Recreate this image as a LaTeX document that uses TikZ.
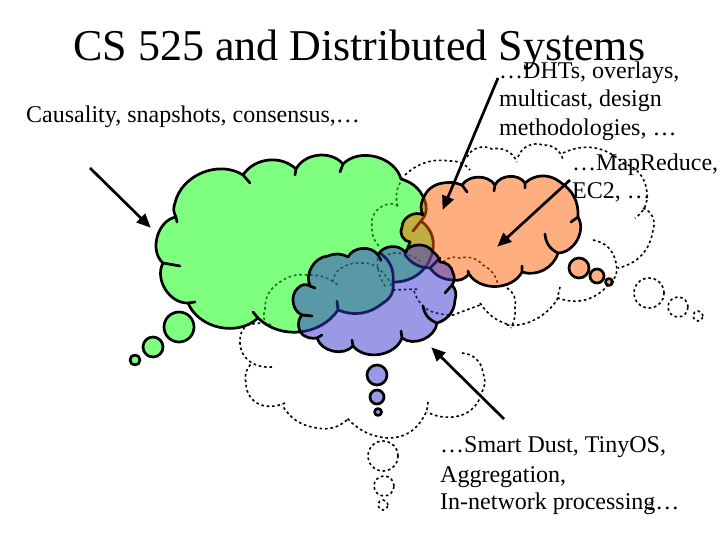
\documentclass[tikz,border=0pt]{standalone}
\usepackage{fontspec}
\setmainfont{Liberation Serif}
\usetikzlibrary{arrows.meta}
\definecolor{greencloud}{RGB}{0,255,0}
\definecolor{orangecloud}{RGB}{255,96,0}
\definecolor{bluecloud}{RGB}{51,51,204}
\tikzset{%
    bigcloud/.style={%
        line width=2.7pt, line join=round, line cap=round, fill opacity=0.5, draw opacity=1
    },
    dashcloud/.style={%
        line width=1.6pt, dash pattern=on 2.6pt off 2.8pt
    },
    pointer/.style={%
        line width=2.7pt, -{Triangle[length=14pt,width=12pt]}, shorten >=-1pt
    },
    caption/.style={%
        anchor=base west, inner sep=0pt, font=\fontsize{24}{28}\selectfont
    }
}

\begin{document}
\begin{tikzpicture}[x=1pt,y=-1pt]
    \useasboundingbox (0,0) rectangle (720,540);
    % dotted clouds, they lie under the coloured ones
    \begin{scope}[dashcloud]
    \draw (405,175) to[bend left=25] (450,161) to[bend left=25] (470,170);
    \draw (467,157) to[bend left=45] (492,149) to[bend left=40] (517,162);
    \draw (518,157) to[bend left=45] (543,145) to[bend left=40] (563,160);
    \draw (563,153) to[bend left=35] (623,163) to[bend left=35] (647,193) to[bend left=30] (635,218);
    \draw (643,208) to[bend left=45] (653,230) to[bend left=35] (618,268);
    \draw (593,240) to[bend left=35] (616,263) to[bend left=35] (608,285) to[bend left=35] (558,298);
    \draw (560,287) -- (557,300) to[bend left=15] (530,322) to[bend left=12] (507,325);
    \draw (507,288) to[bend left=35] (515,307) to[bend left=15] (511,328);
    \draw (480,303) to[bend right=20] (510,325);
    \draw (393,290) -- (418,289);
    \draw (414,291) to[bend right=20] (430,311) to[bend right=10] (453,315) -- (480,305);
    \draw (462,353) to[bend left=40] (483,373) to[bend left=25] (482,392) to[bend left=35] (453,417) to[bend left=15] (427,412);
    \draw (428,402) to[bend left=15] (423,418) to[bend left=30] (387,438) to[bend left=20] (347,418);
    \draw (347,420) to[bend left=25] (317,428) to[bend left=25] (282,405);
    \draw (285,403) to[bend left=15] (265,406) to[bend left=40] (246,383) to[bend left=30] (252,363);
    \draw (272,367) to[bend left=15] (252,363) to[bend left=30] (240,340) to[bend left=30] (248,325) to[bend left=15] (272,325);
    \draw (267,325) to[bend left=30] (265,310) to[bend left=30] (280,282) to[bend left=20] (307,275) to[bend left=20] (338,285);
    \draw (333,282) to[bend left=30] (343,267) to[bend left=15] (363,263) to[bend left=25] (383,273) to[bend left=15] (392,288);
    \draw (378,253) to[bend right=20] (386,288);
    \draw (380,262) to[bend left=20] (393,253) to[bend left=20] (423,263);
    \draw (403,178) to[bend right=25] (398,208);
    \draw (398,206) to[bend right=25] (385,205) to[bend right=40] (372,227) to[bend right=25] (380,247);
    \draw (443,262) to[bend left=30] (460,258) to[bend left=30] (483,265) to[bend left=25] (498,285);
    \node[draw,circle,inner sep=0pt,minimum size=30pt] (dashbubblea) at (649,293) {};
    \node[draw,circle,inner sep=0pt,minimum size=20pt] (dashbubbleb) at (678,307) {};
    \node[draw,circle,inner sep=0pt,minimum size=10pt] (dashbubblec) at (698,316) {};
    \node[draw,circle,inner sep=0pt,minimum size=30pt] (dashbubbled) at (383,456) {};
    \node[draw,circle,inner sep=0pt,minimum size=20pt] (dashbubblee) at (384,486) {};
    \node[draw,circle,inner sep=0pt,minimum size=10pt] (dashbubblef) at (383,505) {};
    \end{scope}
    % green cloud
    \draw[bigcloud,fill=greencloud]
        (176,217) to[bend left=25] (175,203) to[bend left=55] (243,175) -- (250,183) -- (243,175)
        to[bend left=50] (296,169) -- (295,175) -- (296,169)
        to[bend left=55] (343,164) -- (340,172) -- (343,164)
        to[bend left=60] (401,179)
        to[bend left=30] (426,205) to[bend left=25] (421,221) -- (413,231) -- (421,221)
        to[bend left=30] (433,250) to[bend left=40] (393,282)
        to[bend right=30] (380,253) to[bend left=30] (393,282)
        to[bend left=35] (383,303) to[bend left=30] (338,310) -- (337,301) -- (338,310)
        to[bend left=50] (258,318) -- (253,312) -- (258,318)
        to[bend left=55] (188,303) -- (195,302) -- (188,303)
        to[bend left=60] (163,263) -- (180,266) -- (163,263)
        to[bend left=65] (176,217) -- (177,222) -- cycle;
    % orange cloud
    \draw[bigcloud,fill=orangecloud]
        (410,242) to[bend left=60] (402,227) to[bend left=60] (423,215)
        to[bend left=25] (423,199) to[bend left=30] (443,183) to[bend left=15] (462,185) -- (467,192) -- (462,185)
        to[bend left=55] (495,185) -- (494,191) -- (495,185)
        to[bend left=60] (525,183) -- (525,188) -- (525,183)
        to[bend left=40] (560,182) to[bend left=30] (578,217) -- (571,222) -- (578,217)
        to[bend left=60] (558,253) to[bend left=30] (545,234) to[bend right=30] (558,253)
        to[bend left=45] (522,272) -- (522,266) -- (522,272)
        to[bend left=60] (469,274) -- (468,271) -- (469,274)
        to[bend left=30] (453,280) to[bend left=25] (430,268) -- (440,258) -- (430,268)
        to[bend left=25] (405,255) -- cycle;
    % blue cloud
    \draw[bigcloud,fill=bluecloud]
        (302,315) -- (312,316) -- (302,315)
        to[bend left=60] (298,288) to[bend left=40] (310,286) -- (315,288) -- (310,286)
        to[bend left=55] (328,256) to[bend left=25] (348,257)
        to[bend left=60] (378,255) -- (381,260) -- (378,255)
        to[bend left=60] (405,252)
        to[bend left=60] (433,252) to[bend left=20] (440,262)
        to[bend left=40] (453,273) to[bend left=30] (452,285) -- (445,293) -- (452,285)
        to[bend left=30] (455,300) to[bend left=35] (437,323) to[bend left=30] (423,306) to[bend right=30] (437,323)
        to[bend left=60] (402,338) -- (401,331) -- (402,338)
        to[bend left=60] (353,346) -- (352,340) -- (353,346)
        to[bend left=60] (317,338) -- (322,335) -- (317,338)
        to[bend left=20] (303,335) to[bend left=45] (302,315) -- cycle;
    % small bubbles
    \foreach \nm/\x/\y/\d/\c in {ga/179/327/30/greencloud, gb/153/347/20/greencloud, gc/135/360/10/greencloud,
        oa/579/268/20/orangecloud, ob/597/276/14/orangecloud, oc/609/282/7/orangecloud,
        ba/377/375/20/bluecloud, bb/377/397/14/bluecloud, bc/378/412/7/bluecloud}
    {
    \node[bigcloud,draw,fill=\c,circle,inner sep=0pt,minimum size=\d pt] (bubble\nm) at (\x,\y) {};
    }
    % arrows
    \coordinate (casualtail) at (90,168);
    \coordinate (casualhead) at (150,227);
    \coordinate (dhttail) at (498,78);
    \coordinate (dhthead) at (443,209);
    \coordinate (maptail) at (570,180);
    \coordinate (maphead) at (498,246);
    \coordinate (dusttail) at (504,419);
    \coordinate (dusthead) at (432,348);
    \draw[pointer] (casualtail) -- (casualhead);
    \draw[pointer] (dhttail) -- (dhthead);
    \draw[pointer] (maptail) -- (maphead);
    \draw[pointer] (dusttail) -- (dusthead);
    % texts
    \node[caption,font=\fontsize{44}{48}\selectfont] (title) at (73,61) {CS 525 and Distributed Systems};
    \node[caption] (causality) at (26,123) {Causality, snapshots, consensus,…};
    \node[caption] (dhta) at (499,79) {…DHTs, overlays,};
    \node[caption] (dhtb) at (499,107) {multicast, design};
    \node[caption] (dhtc) at (499,136) {methodologies, …};
    \node[caption] (mapa) at (572,171) {…MapReduce,};
    \node[caption] (mapb) at (572,199) {EC2, …};
    \node[caption] (dusta) at (440,452) {…Smart Dust, TinyOS,};
    \node[caption] (dustb) at (440,482) {Aggregation,};
    \node[caption] (dustc) at (440,509) {In-network processing…};
    \node[caption,font=\fontsize{12}{14}\selectfont] (pagenum) at (648,510) {2};
\end{tikzpicture}
\end{document}
